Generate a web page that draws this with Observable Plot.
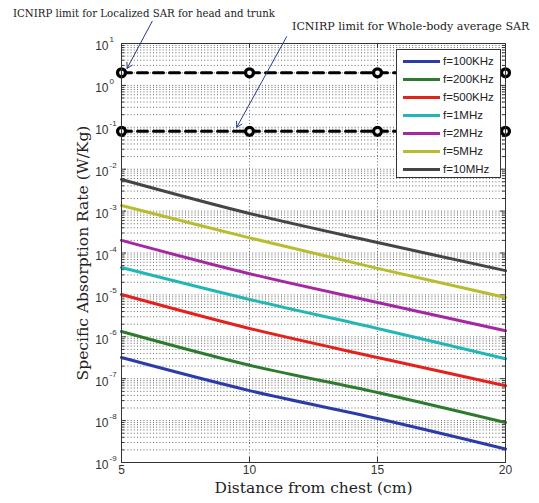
<!DOCTYPE html>
<html><head><meta charset="utf-8">
<script src="https://cdn.jsdelivr.net/npm/d3@7"></script>
<script src="https://cdn.jsdelivr.net/npm/@observablehq/plot@0.6"></script>
<style>
body{margin:0;background:#fff;}
#wrap{position:relative;width:539px;height:503px;overflow:hidden;}
.ann{position:absolute;font-family:"DejaVu Serif",serif;color:#222;white-space:nowrap;}
#legend{position:absolute;left:396px;top:49px;width:103px;height:127px;background:#fff;border:1px solid #333;font-family:"Liberation Sans",Arial,sans-serif;font-size:11.5px;color:#222;}
.row{position:absolute;left:0;height:18px;display:flex;align-items:center;}
.sw{width:37px;height:3px;margin-left:6px;margin-right:3px;}
</style></head><body><div id="wrap"></div>
<script>
// ---- data ----
const distances = [5, 10, 15, 20];
const seriesNames = ["f=100KHz", "f=200KHz", "f=500KHz", "f=1MHz", "f=2MHz", "f=5MHz", "f=10MHz"];
const seriesColors = ["#2b3ca8", "#2e7a2e", "#e3221d", "#22b6b6", "#a528a3", "#b7bd2e", "#454545"];
const sar100KHz = [3.2e-7, 5.2e-8, 1.12e-8, 2.1e-9];
const sar200KHz = [1.34e-6, 2.1e-7, 4.7e-8, 9e-9];
const sar500KHz = [1.02e-5, 1.58e-6, 3.2e-7, 6.8e-8];
const sar1MHz = [4.5e-5, 7.8e-6, 1.58e-6, 3.0e-7];
const sar2MHz = [2.0e-4, 3.2e-5, 6.6e-6, 1.4e-6];
const sar5MHz = [1.36e-3, 2.3e-4, 4.3e-5, 8.7e-6];
const sar10MHz = [5.7e-3, 8.8e-4, 1.78e-4, 3.8e-5];
const limitNames = ["ICNIRP limit for Localized SAR for head and trunk", "ICNIRP limit for Whole-body average SAR"];
const limitValues = [2, 0.08];
const yTickExponents = [-9, -8, -7, -6, -5, -4, -3, -2, -1, 0, 1];
const xTicks = [5, 10, 15, 20];
const xLabel = "Distance from chest (cm)";
const yLabel = "Specific Absorption Rate (W/Kg)";
// annotation arrows: tail (x, SAR) -> head (x, SAR)
const arrowTailX = [6.2, 11.45];
const arrowTailY = [34, 14.5];
const arrowHeadX = [5.22, 9.5];
const arrowHeadY = [2.55, 0.1];

// ---- build tables ----
const allSeries = [sar100KHz, sar200KHz, sar500KHz, sar1MHz, sar2MHz, sar5MHz, sar10MHz];
const rows = [];
allSeries.forEach((vals, i) => vals.forEach((v, j) => rows.push({name: seriesNames[i], x: distances[j], y: v})));
const limitRows = [];
limitValues.forEach((v, i) => distances.forEach(x => limitRows.push({name: limitNames[i], x, y: v})));
const majors = yTickExponents.map(e => Math.pow(10, e));
const minors = [];
for (let e = -9; e < 1; e++) for (let m = 2; m <= 9; m++) minors.push(m * Math.pow(10, e));
const arrows = arrowTailX.map((d, i) => ({x1: d, y1: arrowTailY[i], x2: arrowHeadX[i], y2: arrowHeadY[i]}));

const W = 539, H = 503, mL = 121, mR = 34, mT = 43, mB = 41;
const fw = W - mL - mR, fh = H - mT - mB;
const sans = "Liberation Sans, Arial, sans-serif";
const serif = "DejaVu Serif, serif";

const chart = Plot.plot({
  width: W, height: H,
  marginLeft: mL, marginRight: mR, marginTop: mT, marginBottom: mB,
  style: {background: "white", overflow: "visible"},
  x: {domain: [5, 20], axis: null},
  y: {type: "log", domain: [1e-9, 10], axis: null},
  color: {domain: seriesNames, range: seriesColors},
  marks: [
    Plot.ruleY(minors.concat(majors), {stroke: "#6a6a6a", strokeWidth: 1, strokeDasharray: "1,2.2"}),
    Plot.ruleX([10, 15], {stroke: "#6a6a6a", strokeWidth: 1, strokeDasharray: "1,2.2"}),
    // ticks
    Plot.tickY(majors, {y: d => d, insetRight: fw - 5, stroke: "#333"}),
    Plot.tickY(majors, {y: d => d, insetLeft: fw - 5, stroke: "#333"}),
    Plot.tickY(minors, {y: d => d, insetRight: fw - 3, stroke: "#333"}),
    Plot.tickY(minors, {y: d => d, insetLeft: fw - 3, stroke: "#333"}),
    Plot.tickX(xTicks, {x: d => d, insetTop: fh - 5, stroke: "#333"}),
    Plot.tickX(xTicks, {x: d => d, insetBottom: fh - 5, stroke: "#333"}),
    Plot.line(rows, {x: "x", y: "y", z: "name", stroke: "name", strokeWidth: 3, curve: "catmull-rom"}),
    Plot.line(limitRows, {x: "x", y: "y", z: "name", stroke: "black", strokeWidth: 3, strokeDasharray: "10,6"}),
    Plot.dot(limitRows, {x: "x", y: "y", r: 4, fill: "#f4f4f4", stroke: "black", strokeWidth: 3.2, clip: false}),
    Plot.frame({stroke: "#333", strokeWidth: 1}),
    // tick labels
    Plot.text(xTicks, {x: d => d, frameAnchor: "bottom", dy: 11, fontSize: 12, fontFamily: sans, fill: "#333"}),
    Plot.text(majors, {y: d => d, frameAnchor: "left", dx: -13, dy: 3, textAnchor: "end", text: () => "10", fontSize: 12, fontFamily: sans, fill: "#333"}),
    Plot.text(yTickExponents, {y: d => Math.pow(10, d), frameAnchor: "left", dx: -12, dy: -4, textAnchor: "start", text: d => String(d), fontSize: 8, fontFamily: sans, fill: "#333"}),
    Plot.text([xLabel], {frameAnchor: "bottom", dy: 30, textAnchor: "middle", fontSize: 15.5, fontFamily: serif, fill: "#222"}),
    Plot.text([yLabel], {frameAnchor: "left", dx: -38, textAnchor: "middle", rotate: -90, fontSize: 15.5, fontFamily: serif, fill: "#222"}),
    Plot.arrow(arrows, {x1: "x1", y1: "y1", x2: "x2", y2: "y2", stroke: "#2a3a8c", strokeWidth: 1, headLength: 9, clip: false})
  ]
});
const wrap = document.getElementById("wrap");
wrap.appendChild(chart);

// annotations
const a1 = document.createElement("div");
a1.className = "ann"; a1.style.left = "13px"; a1.style.top = "8px"; a1.style.fontSize = "10.2px";
a1.textContent = limitNames[0];
wrap.appendChild(a1);
const a2 = document.createElement("div");
a2.className = "ann"; a2.style.left = "292px"; a2.style.top = "20px"; a2.style.fontSize = "11.1px";
a2.textContent = limitNames[1];
wrap.appendChild(a2);

// legend
const leg = document.createElement("div");
leg.id = "legend";
seriesNames.forEach((n, i) => {
  const r = document.createElement("div");
  r.className = "row"; r.style.top = (2 + i * 18) + "px";
  const s = document.createElement("div");
  s.className = "sw"; s.style.background = seriesColors[i];
  const t = document.createElement("span"); t.textContent = n;
  r.appendChild(s); r.appendChild(t); leg.appendChild(r);
});
wrap.appendChild(leg);
</script></body></html>
